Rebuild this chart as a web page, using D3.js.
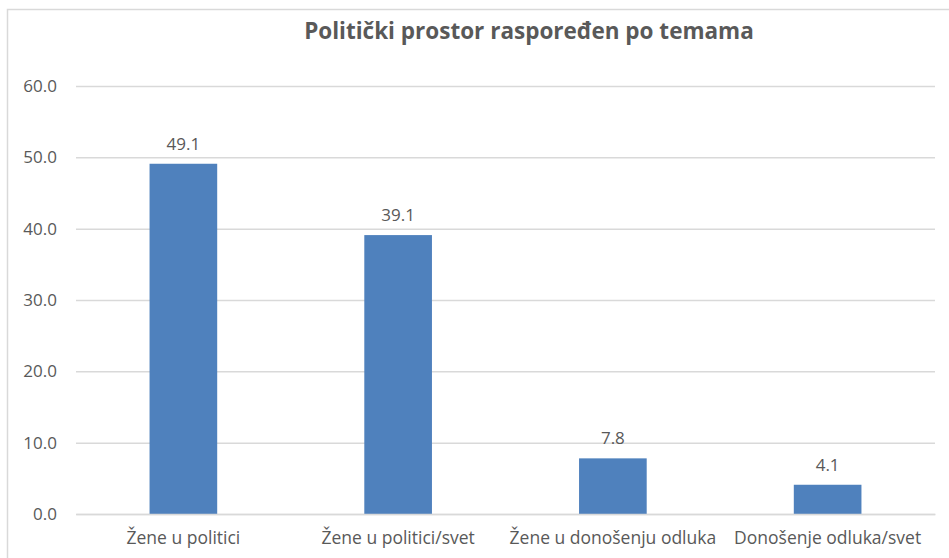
<!DOCTYPE html>
<html>
<head>
<meta charset="utf-8">
<script src="https://cdn.jsdelivr.net/npm/d3@7"></script>
<style>
  body { margin: 0; background: #fff; }
  text { font-family: "Open Sans", "Liberation Sans", sans-serif; fill: #595959; }
</style>
</head>
<body>
<div id="chart"></div>
<script>
// podaci
const categories = ["Žene u politici", "Žene u politici/svet", "Žene u donošenju odluka", "Donošenje odluka/svet"];
const values = [49.1, 39.1, 7.8, 4.1];
const yTicks = [0, 10, 20, 30, 40, 50, 60];
const title = "Politički prostor raspoređen po temama";

const width = 949, height = 558;
const margin = { top: 86, right: 14, bottom: 44, left: 76 };

const svg = d3.select("#chart").append("svg")
  .attr("width", width)
  .attr("height", height);

// okvir grafikona
svg.append("rect")
  .attr("x", 7.5).attr("y", 9.5)
  .attr("width", 1100).attr("height", 700)
  .attr("fill", "none")
  .attr("stroke", "#d9d9d9")
  .attr("stroke-width", 1.5);

const x = d3.scaleBand()
  .domain(categories)
  .range([margin.left, width - margin.right])
  .paddingInner(0.685)
  .paddingOuter(0.3425);

const y = d3.scaleLinear()
  .domain([0, 60])
  .range([height - margin.bottom, margin.top]);

// linije mreže
const gy = svg.append("g")
  .attr("transform", "translate(" + margin.left + ",0)")
  .call(d3.axisLeft(y).tickValues(yTicks).tickFormat(d3.format(".1f"))
    .tickSize(-(width - margin.right - margin.left)).tickPadding(19));
gy.select(".domain").remove();
gy.selectAll(".tick line").attr("stroke", "#d9d9d9").attr("stroke-width", 1.5);
gy.selectAll(".tick text").attr("font-size", 17).attr("fill", "#595959")
  .style("font-family", "'Open Sans', sans-serif");

// stubići
svg.selectAll("rect.bar")
  .data(values)
  .enter().append("rect")
  .attr("class", "bar")
  .attr("x", (d, i) => x(categories[i]))
  .attr("y", d => y(d))
  .attr("width", x.bandwidth())
  .attr("height", d => y(0) - y(d))
  .attr("fill", "#4f81bd");

// vrednosti iznad stubića
svg.selectAll("text.lbl")
  .data(values)
  .enter().append("text")
  .attr("class", "lbl")
  .attr("x", (d, i) => x(categories[i]) + x.bandwidth() / 2)
  .attr("y", d => y(d) - 14)
  .attr("text-anchor", "middle")
  .attr("font-size", 17)
  .text(d => d3.format(".1f")(d));

// kategorije
const gx = svg.append("g")
  .attr("transform", "translate(0," + (height - margin.bottom) + ")")
  .call(d3.axisBottom(x).tickSize(0).tickPadding(18));
gx.select(".domain").attr("stroke", "#d9d9d9").attr("stroke-width", 1.5);
gx.selectAll(".tick text").attr("font-size", 17.5).attr("fill", "#595959")
  .style("font-family", "'Open Sans', sans-serif");

// naslov
svg.append("text")
  .attr("x", 529)
  .attr("y", 39)
  .attr("text-anchor", "middle")
  .attr("font-size", 22.5)
  .attr("font-weight", "bold")
  .text(title);
</script>
</body>
</html>
